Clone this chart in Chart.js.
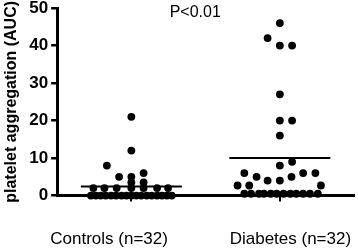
<!DOCTYPE html>
<html><head><meta charset="utf-8">
<script src="https://cdn.jsdelivr.net/npm/chart.js@4/dist/chart.umd.min.js"></script>
<style>html,body{margin:0;padding:0;background:#fff}#wrap{width:358px;height:250px;position:relative}</style>
</head><body><div id="wrap"><canvas id="c"></canvas></div>
<script>
// ---- data ----
const categories = ['Controls (n=32)', 'Diabetes (n=32)'];
const controlsValues = [21, 12, 8, 6, 5, 5, 3.5, 3.5,
  2, 2, 2, 2, 2, 2, 2,
  0, 0, 0, 0, 0, 0, 0, 0, 0, 0, 0, 0, 0, 0, 0, 0, 0];
// horizontal scatter (dot columns) of each point, as drawn in the picture
const controlsJitter = [0, 0, -2, 1, -1, 0, 0, 1,
  -3.1, -2.2, -1.2, 0, 1, 2.1, 3,
  -3.3, -2.9, -2.5, -2.1, -1.65, -1.25, -0.8, -0.4, 0, 0.4, 0.8, 1.25, 1.65, 2.1, 2.5, 2.9, 3.3];
const diabetesValues = [46, 42, 40, 40, 27, 20, 20, 16, 9, 8, 6, 6, 6, 5, 5, 4, 4, 2.7, 2.7, 2.7,
  0.5, 0.5, 0.5, 0.5, 0.5, 0.5, 0.5, 0.5, 0.5, 0.5, 0.5, 0.5];
const diabetesJitter = [0, -1, 0, 1, 0, 0, 1, 0, 1, 0, -2.9, 1.9, 2.9, -1.9, 0.95, -1, 0, -3.45, -2.5, 3.35,
  -2.9, -2.35, -1.7, -1.3, -0.74, -0.26, 0.3, 0.86, 1.34, 1.9, 2.46, 3.1];
const groupMeans = [2.4, 10];
const yTicks = [0, 10, 20, 30, 40, 50];
const yTitle = 'platelet aggregation (AUC)';
const pValueText = 'P<0.01';

// ---- layout ----
const FONT = '"Liberation Sans", Arial, Helvetica, sans-serif';
const centers = [0.5, 1.5];
const colUnit = 0.0825;
const meanHalfWidth = 0.34;
const labelNudge = [-0.15, 0.071];

const toPoints = (vals, jit, c) => vals.map((v, i) => ({x: c + jit[i] * colUnit, y: v}));
const dotStyle = {pointRadius: 3.9, pointHoverRadius: 3.9, pointBackgroundColor: '#000', pointBorderWidth: 0, showLine: false, clip: false};
const meanLine = (m, c) => ({data: [{x: c - meanHalfWidth, y: m}, {x: c + meanHalfWidth, y: m}],
  showLine: true, borderColor: '#000', borderWidth: 2, pointRadius: 0, clip: false});

const pLabelPlugin = {
  id: 'pLabel',
  afterDatasetsDraw(chart, args, opts) {
    const {ctx, scales: {x, y}} = chart;
    ctx.save();
    ctx.font = '16px ' + FONT;
    ctx.fillStyle = '#000';
    ctx.textAlign = 'center';
    ctx.textBaseline = 'middle';
    ctx.fillText(pValueText, x.getPixelForValue(opts.x), y.getPixelForValue(opts.y));
    ctx.restore();
  }
};

Chart.defaults.font.family = FONT;
Chart.defaults.color = '#000';

new Chart(document.getElementById('c'), {
  type: 'scatter',
  data: {
    datasets: [
      meanLine(groupMeans[0], centers[0]),
      meanLine(groupMeans[1], centers[1]),
      Object.assign({data: toPoints(controlsValues, controlsJitter, centers[0])}, dotStyle),
      Object.assign({data: toPoints(diabetesValues, diabetesJitter, centers[1])}, dotStyle)
    ]
  },
  options: {
    responsive: true,
    maintainAspectRatio: false,
    devicePixelRatio: 1,
    animation: false,
    layout: {padding: {top: 0, right: 0, left: 0, bottom: 0}},
    plugins: {legend: {display: false}, tooltip: {enabled: false}, pLabel: {x: 0.93, y: 48.8}},
    scales: {
      x: {
        type: 'linear', position: 'bottom', min: 0, max: 2, weight: 0,
        afterBuildTicks: s => { s.ticks = centers.map(v => ({value: v})); },
        ticks: {display: false},
        grid: {display: true, drawOnChartArea: false, drawTicks: true, tickLength: 6, lineWidth: 2, color: '#000'},
        border: {display: true, width: 3, color: '#000'}
      },
      xLabels: {
        type: 'linear', axis: 'x', position: 'bottom', min: 0, max: 2, weight: 1,
        afterBuildTicks: s => { s.ticks = centers.map((v, i) => ({value: v + labelNudge[i]})); },
        ticks: {callback: (v, i) => categories[i], font: {size: 17}, color: '#000', padding: 0, maxRotation: 0, minRotation: 0, autoSkip: false},
        grid: {display: false, drawTicks: true, tickLength: 28},
        border: {display: false}
      },
      y: {
        type: 'linear', min: 0, max: 50,
        afterBuildTicks: s => { s.ticks = yTicks.map(v => ({value: v})); },
        ticks: {font: {size: 17, weight: 'bold', lineHeight: 0.6}, color: '#000', padding: 3},
        grid: {display: true, drawOnChartArea: false, drawTicks: true, tickLength: 6, lineWidth: 2.5, color: '#000'},
        border: {display: true, width: 3, color: '#000'},
        title: {display: true, text: yTitle, font: {size: 16, weight: 'bold'}, color: '#000', padding: {top: 2, bottom: 5}}
      }
    }
  },
  plugins: [pLabelPlugin]
});
</script></body></html>
